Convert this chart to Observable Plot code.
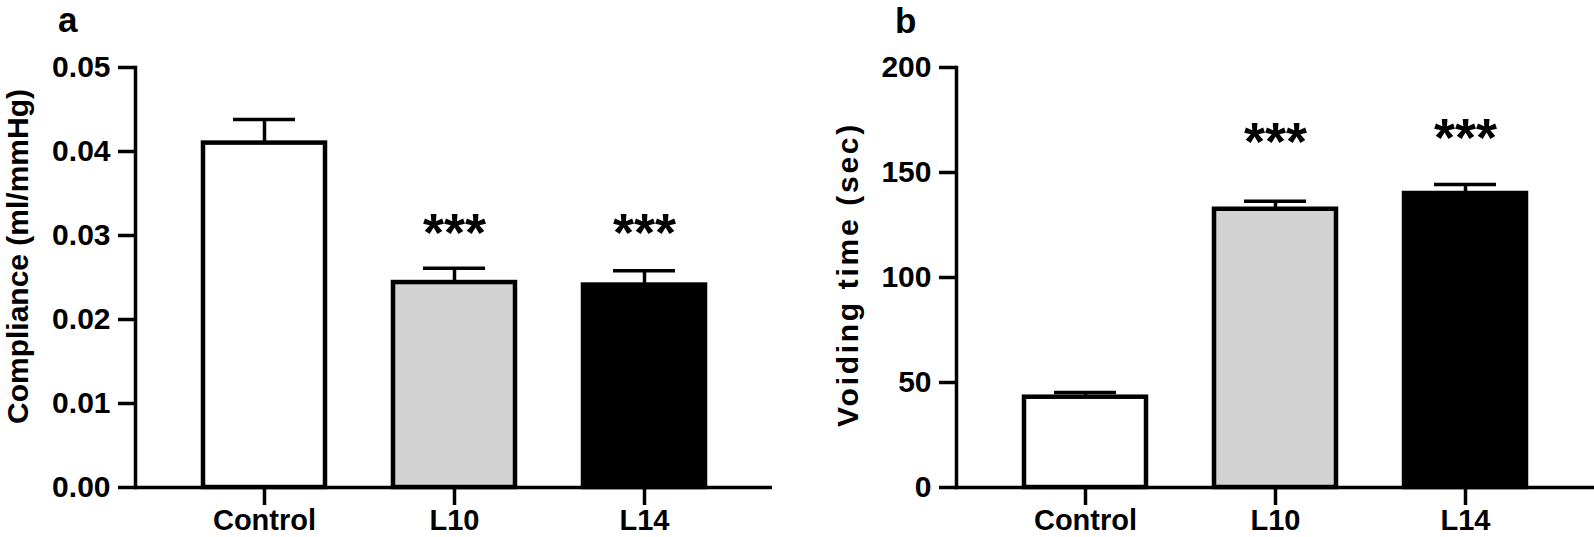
<!DOCTYPE html>
<html><head><meta charset="utf-8">
<script src="https://cdn.jsdelivr.net/npm/d3@7"></script>
<script src="https://cdn.jsdelivr.net/npm/@observablehq/plot@0.6"></script>
<style>
body{margin:0;background:#fff;}
#wrap{position:relative;width:1594px;height:537px;overflow:hidden;font-family:"Liberation Sans",Arial,sans-serif;background:#fff;}
.panel{position:absolute;top:0;}
.letter{position:absolute;font-weight:bold;font-size:35px;line-height:35px;color:#000;}
</style></head><body>
<div id="wrap">
  <div class="panel" id="pa" style="left:0px"></div>
  <div class="panel" id="pb" style="left:797px"></div>
  <div class="letter" style="left:58px;top:2px">a</div>
  <div class="letter" style="left:895px;top:3px">b</div>
</div>
<script>
const categories = ["Control", "L10", "L14"];
const barFills = ["white", "#d3d3d3", "black"];
const sigLabels = ["", "***", "***"];

const complianceMean = [0.0410, 0.0244, 0.0241];
const complianceSem = [0.0028, 0.0017, 0.0017];
const complianceSigY = [null, 0.0281, 0.0281];
const complianceTicks = [0, 0.01, 0.02, 0.03, 0.04, 0.05];
const complianceTitle = "Compliance (ml/mmHg)";

const voidingMean = [43.0, 132.5, 140.0];
const voidingSem = [2.2, 3.8, 4.3];
const voidingSigY = [null, 155.9, 157.8];
const voidingTicks = [0, 50, 100, 150, 200];
const voidingTitle = "Voiding time (sec)";

const FONT = "'Liberation Sans', Arial, sans-serif";

function panel({mean, sem, sigY, ticks, fmt, ymax, title, marginLeft, marginRight, titleOffset, titleDy, titleSpacing}) {
  const data = categories.map((c, i) => ({cat: c, mean: mean[i], top: mean[i] + sem[i], fill: barFills[i], sig: sigLabels[i], sigY: sigY[i]}));
  const svg = Plot.plot({
    width: 797, height: 537,
    marginLeft, marginRight, marginTop: 67, marginBottom: 50,
    style: {fontFamily: FONT, fontWeight: "bold", fontSize: "30px", color: "black", background: "white", overflow: "visible"},
    x: {domain: categories, paddingInner: 0.36, paddingOuter: 0.356},
    y: {domain: [0, ymax]},
    color: {type: "identity"},
    marks: [
      Plot.ruleX(data, {x: "cat", y1: "mean", y2: "top", stroke: "black", strokeWidth: 3.5}),
      Plot.tickY(data, {x: "cat", y: "top", stroke: "black", strokeWidth: 3.5, insetLeft: 30, insetRight: 30}),
      Plot.barY(data, {x: "cat", y: "mean", fill: "fill", stroke: "black", strokeWidth: 4.5}),
      Plot.text(data.filter(d => d.sig), {x: "cat", y: "sigY", text: "sig", fontSize: 54, lineAnchor: "bottom", fill: "black"}),
      Plot.frame({anchor: "left", stroke: "black", strokeWidth: 3.5}),
      Plot.ruleY([0], {stroke: "black", strokeWidth: 3.5}),
      Plot.axisY({ticks, tickFormat: fmt, tickSize: 17, tickPadding: 8, strokeWidth: 3.5, fontSize: 30, label: null}),
      Plot.axisX({tickSize: 18, tickPadding: 4, strokeWidth: 3.5, fontSize: 29, label: null}),
      Plot.text([title], {text: d => d, frameAnchor: "left", rotate: -90, dx: -titleOffset, dy: titleDy, lineAnchor: "top", textAnchor: "middle", fontSize: 30, fill: "black", className: "ytitle"})
    ]
  });
  svg.querySelectorAll(".ytitle text").forEach(t => t.style.letterSpacing = titleSpacing + "px");
  return svg;
}

document.getElementById("pa").append(panel({
  mean: complianceMean, sem: complianceSem, sigY: complianceSigY, ticks: complianceTicks,
  fmt: d => d.toFixed(2), ymax: 0.05, title: complianceTitle,
  marginLeft: 135, marginRight: 25, titleOffset: 128.5, titleDy: -21, titleSpacing: 0
}));
document.getElementById("pb").append(panel({
  mean: voidingMean, sem: voidingSem, sigY: voidingSigY, ticks: voidingTicks,
  fmt: d => String(d), ymax: 200, title: voidingTitle,
  marginLeft: 159, marginRight: 0, titleOffset: 119.5, titleDy: -3, titleSpacing: 2.7
}));
</script>
</body></html>
